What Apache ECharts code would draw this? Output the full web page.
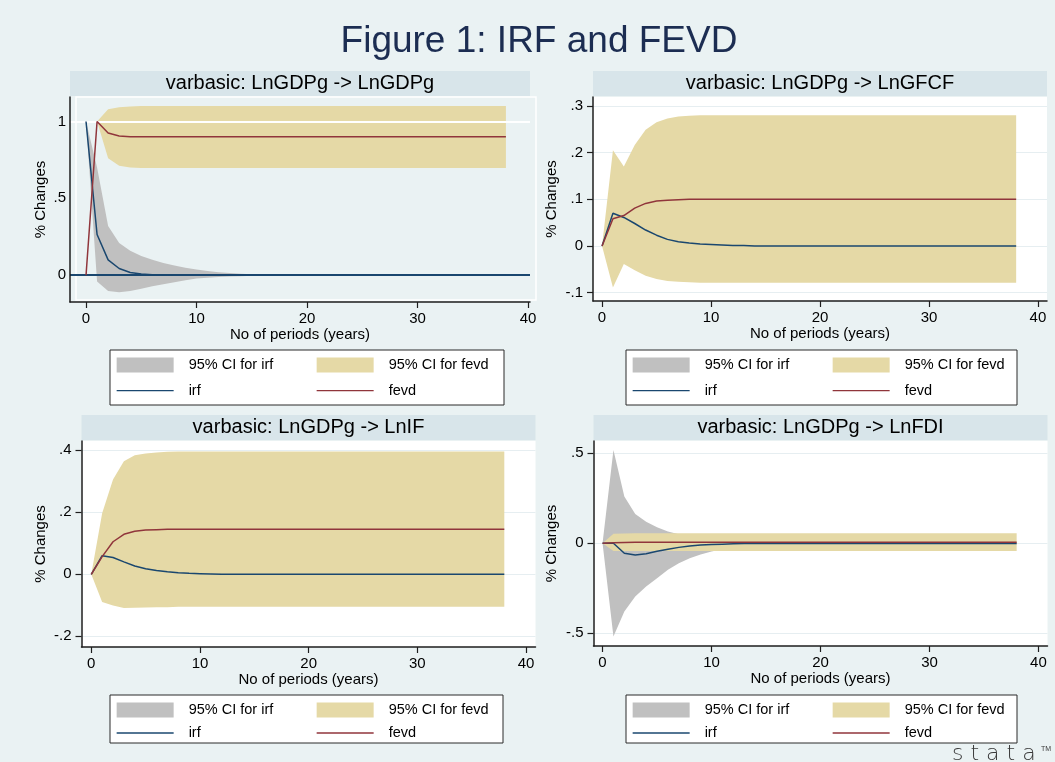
<!DOCTYPE html>
<html>
<head>
<meta charset="utf-8">
<title>Figure 1: IRF and FEVD</title>
<script src="https://cdn.jsdelivr.net/npm/echarts@6.0.0/dist/echarts.min.js"></script>
<style>
    html, body { margin: 0; padding: 0; background: #eaf2f3; }
    #chart { width: 1055px; height: 762px; }
</style>
</head>
<body>
<div id="chart"></div>
<script>
    // horizons (years) and x tick labels, shared by every panel
    var periods = [
        0, 1, 2, 3, 4, 5, 6, 7, 8, 9,
        10, 11, 12, 13, 14, 15, 16, 17, 18, 19,
        20, 21, 22, 23, 24, 25, 26, 27, 28, 29,
        30, 31, 32, 33, 34, 35, 36, 37, 38
    ];
    var xTicks = [0, 10, 20, 30, 40];

    // varbasic: LnGDPg -> LnGDPg
    var gdpYTicks = [0, 0.5, 1];
    var gdpIrf = [
        1, 0.265, 0.10, 0.044, 0.018, 0.008, 0.003, 0.001, 0, 0,
        0, 0, 0, 0, 0, 0, 0, 0, 0, 0,
        0, 0, 0, 0, 0, 0, 0, 0, 0, 0,
        0, 0, 0, 0, 0, 0, 0, 0, 0
    ];
    var gdpIrfLo = [
        1, -0.04, -0.103, -0.11, -0.102, -0.088, -0.072, -0.058, -0.045, -0.032,
        -0.022, -0.016, -0.011, -0.008, -0.006, -0.004, -0.002, -0.001, 0, 0,
        0, 0, 0, 0, 0, 0, 0, 0, 0, 0,
        0, 0, 0, 0, 0, 0, 0, 0, 0
    ];
    var gdpIrfHi = [
        1, 0.70, 0.32, 0.21, 0.16, 0.125, 0.10, 0.08, 0.063, 0.049,
        0.037, 0.028, 0.02, 0.014, 0.009, 0.006, 0.004, 0.002, 0.001, 0,
        0, 0, 0, 0, 0, 0, 0, 0, 0, 0,
        0, 0, 0, 0, 0, 0, 0, 0, 0
    ];
    var gdpFevd = [
        0, 1, 0.925, 0.906, 0.901, 0.90, 0.90, 0.90, 0.90, 0.90,
        0.90, 0.90, 0.90, 0.90, 0.90, 0.90, 0.90, 0.90, 0.90, 0.90,
        0.90, 0.90, 0.90, 0.90, 0.90, 0.90, 0.90, 0.90, 0.90, 0.90,
        0.90, 0.90, 0.90, 0.90, 0.90, 0.90, 0.90, 0.90, 0.90
    ];
    var gdpFevdLo = [
        0, 1, 0.76, 0.712, 0.70, 0.698, 0.698, 0.698, 0.698, 0.698,
        0.698, 0.698, 0.698, 0.698, 0.698, 0.698, 0.698, 0.698, 0.698, 0.698,
        0.698, 0.698, 0.698, 0.698, 0.698, 0.698, 0.698, 0.698, 0.698, 0.698,
        0.698, 0.698, 0.698, 0.698, 0.698, 0.698, 0.698, 0.698, 0.698
    ];
    var gdpFevdHi = [
        0, 1, 1.08, 1.093, 1.098, 1.10, 1.10, 1.10, 1.10, 1.10,
        1.10, 1.10, 1.10, 1.10, 1.10, 1.10, 1.10, 1.10, 1.10, 1.10,
        1.10, 1.10, 1.10, 1.10, 1.10, 1.10, 1.10, 1.10, 1.10, 1.10,
        1.10, 1.10, 1.10, 1.10, 1.10, 1.10, 1.10, 1.10, 1.10
    ];

    // varbasic: LnGDPg -> LnGFCF
    var gfcfYTicks = [-0.1, 0, 0.1, 0.2, 0.3];
    var gfcfIrf = [
        0, 0.070, 0.061, 0.048, 0.034, 0.023, 0.014, 0.009, 0.006, 0.004,
        0.003, 0.002, 0.001, 0.001, 0, 0, 0, 0, 0, 0,
        0, 0, 0, 0, 0, 0, 0, 0, 0, 0,
        0, 0, 0, 0, 0, 0, 0, 0, 0
    ];
    var gfcfIrfLo = [
        0, 0.01, 0.006, -0.004, -0.01, -0.013, -0.013, -0.012, -0.01, -0.008,
        -0.006, -0.005, -0.004, -0.003, -0.002, -0.001, 0, 0, 0, 0,
        0, 0, 0, 0, 0, 0, 0, 0, 0, 0,
        0, 0, 0, 0, 0, 0, 0, 0, 0
    ];
    var gfcfIrfHi = [
        0, 0.13, 0.116, 0.10, 0.078, 0.059, 0.043, 0.031, 0.022, 0.016,
        0.012, 0.009, 0.006, 0.004, 0.003, 0.002, 0.001, 0, 0, 0,
        0, 0, 0, 0, 0, 0, 0, 0, 0, 0,
        0, 0, 0, 0, 0, 0, 0, 0, 0
    ];
    var gfcfFevd = [
        0, 0.058, 0.065, 0.081, 0.091, 0.096, 0.098, 0.099, 0.10, 0.10,
        0.10, 0.10, 0.10, 0.10, 0.10, 0.10, 0.10, 0.10, 0.10, 0.10,
        0.10, 0.10, 0.10, 0.10, 0.10, 0.10, 0.10, 0.10, 0.10, 0.10,
        0.10, 0.10, 0.10, 0.10, 0.10, 0.10, 0.10, 0.10, 0.10
    ];
    var gfcfFevdLo = [
        0, -0.089, -0.039, -0.052, -0.064, -0.071, -0.075, -0.077, -0.078, -0.079,
        -0.079, -0.079, -0.079, -0.079, -0.079, -0.079, -0.079, -0.079, -0.079, -0.079,
        -0.079, -0.079, -0.079, -0.079, -0.079, -0.079, -0.079, -0.079, -0.079, -0.079,
        -0.079, -0.079, -0.079, -0.079, -0.079, -0.079, -0.079, -0.079, -0.079
    ];
    var gfcfFevdHi = [
        0, 0.205, 0.170, 0.216, 0.249, 0.265, 0.273, 0.277, 0.279, 0.28,
        0.28, 0.28, 0.28, 0.28, 0.28, 0.28, 0.28, 0.28, 0.28, 0.28,
        0.28, 0.28, 0.28, 0.28, 0.28, 0.28, 0.28, 0.28, 0.28, 0.28,
        0.28, 0.28, 0.28, 0.28, 0.28, 0.28, 0.28, 0.28, 0.28
    ];

    // varbasic: LnGDPg -> LnIF
    var ifYTicks = [-0.2, 0, 0.2, 0.4];
    var ifIrf = [
        0, 0.060, 0.054, 0.040, 0.027, 0.018, 0.012, 0.008, 0.005, 0.003,
        0.002, 0.001, 0, 0, 0, 0, 0, 0, 0, 0,
        0, 0, 0, 0, 0, 0, 0, 0, 0, 0,
        0, 0, 0, 0, 0, 0, 0, 0, 0
    ];
    var ifIrfLo = [
        0, 0.005, 0.002, -0.006, -0.011, -0.013, -0.012, -0.011, -0.009, -0.007,
        -0.005, -0.004, -0.003, -0.002, -0.001, 0, 0, 0, 0, 0,
        0, 0, 0, 0, 0, 0, 0, 0, 0, 0,
        0, 0, 0, 0, 0, 0, 0, 0, 0
    ];
    var ifIrfHi = [
        0, 0.115, 0.106, 0.086, 0.065, 0.049, 0.036, 0.027, 0.019, 0.014,
        0.01, 0.007, 0.005, 0.003, 0.002, 0.001, 0, 0, 0, 0,
        0, 0, 0, 0, 0, 0, 0, 0, 0, 0,
        0, 0, 0, 0, 0, 0, 0, 0, 0
    ];
    var ifFevd = [
        0, 0.057, 0.105, 0.129, 0.139, 0.143, 0.144, 0.145, 0.145, 0.145,
        0.145, 0.145, 0.145, 0.145, 0.145, 0.145, 0.145, 0.145, 0.145, 0.145,
        0.145, 0.145, 0.145, 0.145, 0.145, 0.145, 0.145, 0.145, 0.145, 0.145,
        0.145, 0.145, 0.145, 0.145, 0.145, 0.145, 0.145, 0.145, 0.145
    ];
    var ifFevdLo = [
        0, -0.089, -0.101, -0.109, -0.108, -0.107, -0.106, -0.106, -0.105, -0.105,
        -0.105, -0.105, -0.105, -0.105, -0.105, -0.105, -0.105, -0.105, -0.105, -0.105,
        -0.105, -0.105, -0.105, -0.105, -0.105, -0.105, -0.105, -0.105, -0.105, -0.105,
        -0.105, -0.105, -0.105, -0.105, -0.105, -0.105, -0.105, -0.105, -0.105
    ];
    var ifFevdHi = [
        0, 0.197, 0.306, 0.365, 0.384, 0.390, 0.393, 0.395, 0.396, 0.396,
        0.396, 0.396, 0.396, 0.396, 0.396, 0.396, 0.396, 0.396, 0.396, 0.396,
        0.396, 0.396, 0.396, 0.396, 0.396, 0.396, 0.396, 0.396, 0.396, 0.396,
        0.396, 0.396, 0.396, 0.396, 0.396, 0.396, 0.396, 0.396, 0.396
    ];

    // varbasic: LnGDPg -> LnFDI
    var fdiYTicks = [-0.5, 0, 0.5];
    var fdiIrf = [
        0, 0, -0.056, -0.066, -0.058, -0.045, -0.033, -0.023, -0.015, -0.010,
        -0.007, -0.005, -0.003, -0.002, -0.002, -0.002, -0.002, -0.002, -0.002, -0.002,
        -0.002, -0.002, -0.002, -0.002, -0.002, -0.002, -0.002, -0.002, -0.002, -0.002,
        -0.002, -0.002, -0.002, -0.002, -0.002, -0.002, -0.002, -0.002, -0.002
    ];
    var fdiIrfLo = [
        0, -0.518, -0.38, -0.296, -0.24, -0.194, -0.148, -0.111, -0.083, -0.062,
        -0.046, -0.034, -0.025, -0.018, -0.013, -0.009, -0.007, -0.006, -0.005, -0.005,
        -0.005, -0.005, -0.005, -0.005, -0.005, -0.005, -0.005, -0.005, -0.005, -0.005,
        -0.005, -0.005, -0.005, -0.005, -0.005, -0.005, -0.005, -0.005, -0.005
    ];
    var fdiIrfHi = [
        0, 0.518, 0.259, 0.163, 0.12, 0.089, 0.065, 0.05, 0.038, 0.028,
        0.02, 0.014, 0.01, 0.007, 0.005, 0.003, 0.002, 0.001, 0.001, 0.001,
        0.001, 0.001, 0.001, 0.001, 0.001, 0.001, 0.001, 0.001, 0.001, 0.001,
        0.001, 0.001, 0.001, 0.001, 0.001, 0.001, 0.001, 0.001, 0.001
    ];
    var fdiFevd = [
        0, 0.002, 0.004, 0.005, 0.005, 0.005, 0.005, 0.005, 0.005, 0.005,
        0.005, 0.005, 0.005, 0.005, 0.005, 0.005, 0.005, 0.005, 0.005, 0.005,
        0.005, 0.005, 0.005, 0.005, 0.005, 0.005, 0.005, 0.005, 0.005, 0.005,
        0.005, 0.005, 0.005, 0.005, 0.005, 0.005, 0.005, 0.005, 0.005
    ];
    var fdiFevdLo = [
        0, -0.043, -0.043, -0.043, -0.043, -0.043, -0.043, -0.043, -0.043, -0.043,
        -0.043, -0.043, -0.043, -0.043, -0.043, -0.043, -0.043, -0.043, -0.043, -0.043,
        -0.043, -0.043, -0.043, -0.043, -0.043, -0.043, -0.043, -0.043, -0.043, -0.043,
        -0.043, -0.043, -0.043, -0.043, -0.043, -0.043, -0.043, -0.043, -0.043
    ];
    var fdiFevdHi = [
        0, 0.052, 0.054, 0.055, 0.055, 0.056, 0.056, 0.056, 0.056, 0.056,
        0.056, 0.056, 0.056, 0.056, 0.056, 0.056, 0.056, 0.056, 0.056, 0.056,
        0.056, 0.056, 0.056, 0.056, 0.056, 0.056, 0.056, 0.056, 0.056, 0.056,
        0.056, 0.056, 0.056, 0.056, 0.056, 0.056, 0.056, 0.056, 0.056
    ];

    var FONT = '"Liberation Sans", Arial, sans-serif';
    var NAVY = '#1a476f';
    var MAROON = '#90353b';
    var GRAY = '#c0c0c0';
    var SAND = '#e5d9a6';
    var AXIS = '#1e1e1e';

    // stata style labels: .5, -.1 ...
    function stataLabel(v) {
        var s = String(Math.round(v * 1000) / 1000);
        return s.replace(/^(-?)0\./, '$1.');
    }

    function pairs(vals) {
        return periods.map(function (t, i) { return [t, vals[i]]; });
    }

    function band(name, color, lo, hi, idx) {
        return {
            name: name,
            type: 'custom',
            xAxisIndex: idx,
            yAxisIndex: idx,
            z: 2,
            silent: true,
            clip: true,
            itemStyle: {color: color},
            data: periods.map(function (t, i) { return [t, lo[i], hi[i]]; }),
            encode: {x: 0, y: [1, 2]},
            renderItem: function (params, api) {
                if (params.dataIndex !== 0) return null;
                var pts = [];
                for (var i = 0; i < periods.length; i++) {
                    pts.push(api.coord([periods[i], hi[i]]));
                }
                for (var j = periods.length - 1; j >= 0; j--) {
                    pts.push(api.coord([periods[j], lo[j]]));
                }
                return {type: 'polygon', shape: {points: pts}, style: {fill: color}};
            }
        };
    }

    function line(name, color, vals, idx) {
        return {
            name: name,
            type: 'line',
            xAxisIndex: idx,
            yAxisIndex: idx,
            z: 5,
            silent: true,
            symbol: 'none',
            data: pairs(vals),
            lineStyle: {color: color, width: 1.5},
            itemStyle: {color: color}
        };
    }

    var panels = [
        {
            title: 'varbasic: LnGDPg -> LnGDPg',
            grid: {left: 70, top: 97, width: 460, height: 205},
            xRange: [-1.45, 40.18], yRange: [-0.174, 1.159], yTicks: gdpYTicks,
            irf: gdpIrf, irfLo: gdpIrfLo, irfHi: gdpIrfHi,
            fevd: gdpFevd, fevdLo: gdpFevdLo, fevdHi: gdpFevdHi,
            nameGap: 21.5, legendBox: [110, 350, 394, 55], legendTop: 357.5, legendGap: 10.7,
            titleY: 83.5, firstPanel: true
        },
        {
            title: 'varbasic: LnGDPg -> LnGFCF',
            grid: {left: 593, top: 97, width: 454, height: 204},
            xRange: [-0.83, 40.83], yRange: [-0.118, 0.319], yTicks: gfcfYTicks,
            irf: gfcfIrf, irfLo: gfcfIrfLo, irfHi: gfcfIrfHi,
            fevd: gfcfFevd, fevdLo: gfcfFevdLo, fevdHi: gfcfFevdHi,
            nameGap: 33.5, legendBox: [626, 350, 391, 55], legendTop: 357.5, legendGap: 10.7,
            titleY: 83.5
        },
        {
            title: 'varbasic: LnGDPg -> LnIF',
            grid: {left: 81.5, top: 441, width: 454, height: 206},
            xRange: [-0.90, 40.87], yRange: [-0.2345, 0.430], yTicks: ifYTicks,
            irf: ifIrf, irfLo: ifIrfLo, irfHi: ifIrfHi,
            fevd: ifFevd, fevdLo: ifFevdLo, fevdHi: ifFevdHi,
            nameGap: 33, legendBox: [110, 695, 393, 48], legendTop: 702.5, legendGap: 8,
            titleY: 427.5
        },
        {
            title: 'varbasic: LnGDPg -> LnFDI',
            grid: {left: 593.5, top: 441, width: 454, height: 205},
            xRange: [-0.83, 40.83], yRange: [-0.571, 0.568], yTicks: fdiYTicks,
            irf: fdiIrf, irfLo: fdiIrfLo, irfHi: fdiIrfHi,
            fevd: fdiFevd, fevdLo: fdiFevdLo, fevdHi: fdiFevdHi,
            nameGap: 34, legendBox: [626, 695, 391, 48], legendTop: 702.5, legendGap: 8,
            titleY: 427.5
        }
    ];

    var option = {
        backgroundColor: '#eaf2f3',
        animation: false,
        textStyle: {fontFamily: FONT},
        grid: [],
        xAxis: [],
        yAxis: [],
        series: [],
        legend: [],
        graphic: [
            {
                type: 'text', x: 539, y: 42, silent: true,
                style: {
                    text: 'Figure 1: IRF and FEVD', fontSize: 37, fontFamily: FONT, fill: '#1c2d52',
                    align: 'center', verticalAlign: 'middle', textAlign: 'center', textVerticalAlign: 'middle'
                }
            },
            {
                type: 'text', x: 952, y: 754, silent: true,
                style: {
                    text: 's t a t a', fontSize: 22, fontFamily: '"DejaVu Sans", sans-serif', fontWeight: 200,
                    fill: '#3a3a3a', align: 'left', verticalAlign: 'middle', textAlign: 'left', textVerticalAlign: 'middle'
                }
            },
            {
                type: 'text', x: 1041, y: 749, silent: true,
                style: {
                    text: 'TM', fontSize: 7, fontFamily: FONT, fill: '#3a3a3a',
                    align: 'left', verticalAlign: 'middle', textAlign: 'left', textVerticalAlign: 'middle'
                }
            },
            // white frame of the first plot region
            {
                type: 'rect', silent: true, z: 0,
                shape: {x: 76, y: 97, width: 460, height: 203},
                style: {fill: 'none', stroke: '#ffffff', lineWidth: 1.5}
            }
        ]
    };

    panels.forEach(function (p, k) {
        var g = p.grid;
        option.grid.push({
            left: g.left, top: g.top, width: g.width, height: g.height,
            show: !p.firstPanel, backgroundColor: '#ffffff', borderWidth: 0,
            containLabel: false, outerBoundsMode: 'none'
        });

        option.xAxis.push({
            type: 'value', gridIndex: k, min: p.xRange[0], max: p.xRange[1],
            name: 'No of periods (years)', nameLocation: 'middle', nameGap: 24,
            nameTextStyle: {fontSize: 15, color: '#000', fontFamily: FONT},
            axisLine: {show: true, onZero: false, lineStyle: {color: AXIS, width: 1.5}},
            axisTick: {show: true, length: 6, customValues: xTicks, lineStyle: {color: AXIS, width: 1.2}},
            axisLabel: {customValues: xTicks, fontSize: 15, color: '#000', margin: 9, fontFamily: FONT},
            splitLine: {show: false}
        });

        option.yAxis.push({
            type: 'value', gridIndex: k, min: p.yRange[0], max: p.yRange[1],
            z: p.firstPanel ? 3 : 0,
            name: '% Changes', nameLocation: 'middle', nameGap: p.nameGap, nameMoveOverlap: false,
            nameTextStyle: {fontSize: 15, color: '#000', fontFamily: FONT},
            axisLine: {show: true, onZero: false, lineStyle: {color: AXIS, width: 1.5}},
            axisTick: {show: !p.firstPanel, length: 6, customValues: p.yTicks, lineStyle: {color: AXIS, width: 1.2}},
            axisLabel: {
                customValues: p.yTicks, fontSize: 15, color: '#000', fontFamily: FONT,
                margin: p.firstPanel ? 4 : 10, formatter: stataLabel
            },
            splitLine: p.firstPanel
                ? {show: true, lineStyle: {color: [NAVY, 'rgba(0,0,0,0)', '#ffffff'], width: 2}}
                : {show: true, lineStyle: {color: '#e6eef1', width: 1}}
        });

        option.series.push(
            band('95% CI for irf', GRAY, p.irfLo, p.irfHi, k),
            band('95% CI for fevd', SAND, p.fevdLo, p.fevdHi, k),
            line('irf', NAVY, p.irf, k),
            line('fevd', MAROON, p.fevd, k)
        );

        var b = p.legendBox;
        option.graphic.push(
            {
                type: 'rect', silent: true, shape: {x: g.left, y: p.titleY - 12.5, width: g.width, height: 25},
                style: {fill: '#d8e5ea'}
            },
            {
                type: 'text', silent: true, x: g.left + g.width / 2, y: p.titleY,
                style: {
                    text: p.title, fontSize: 20, fontFamily: FONT, fill: '#000',
                    align: 'center', verticalAlign: 'middle', textAlign: 'center', textVerticalAlign: 'middle'
                }
            },
            {
                type: 'rect', silent: true, shape: {x: b[0], y: b[1], width: b[2], height: b[3]},
                style: {fill: '#ffffff', stroke: '#2a2a2a', lineWidth: 1}
            }
        );

        var legendBase = {
            orient: 'vertical', top: p.legendTop, padding: 0,
            itemWidth: 57, itemHeight: 15, itemGap: p.legendGap, selectedMode: false,
            textStyle: {fontSize: 14.5, color: '#000', fontFamily: FONT, padding: [0, 0, 0, 10]}
        };
        // line keys: hide the marker so only the stroke shows
        option.legend.push(
            Object.assign({}, legendBase, {
                left: b[0] + 6,
                data: [
                    {name: '95% CI for irf', icon: 'rect'},
                    {name: 'irf', itemStyle: {opacity: 0}, lineStyle: {width: 1.3}}
                ]
            }),
            Object.assign({}, legendBase, {
                left: b[0] + 206,
                data: [
                    {name: '95% CI for fevd', icon: 'rect'},
                    {name: 'fevd', itemStyle: {opacity: 0}, lineStyle: {width: 1.3}}
                ]
            })
        );
    });

    var chart = echarts.init(document.getElementById('chart'));
    chart.setOption(option);
</script>
</body>
</html>
